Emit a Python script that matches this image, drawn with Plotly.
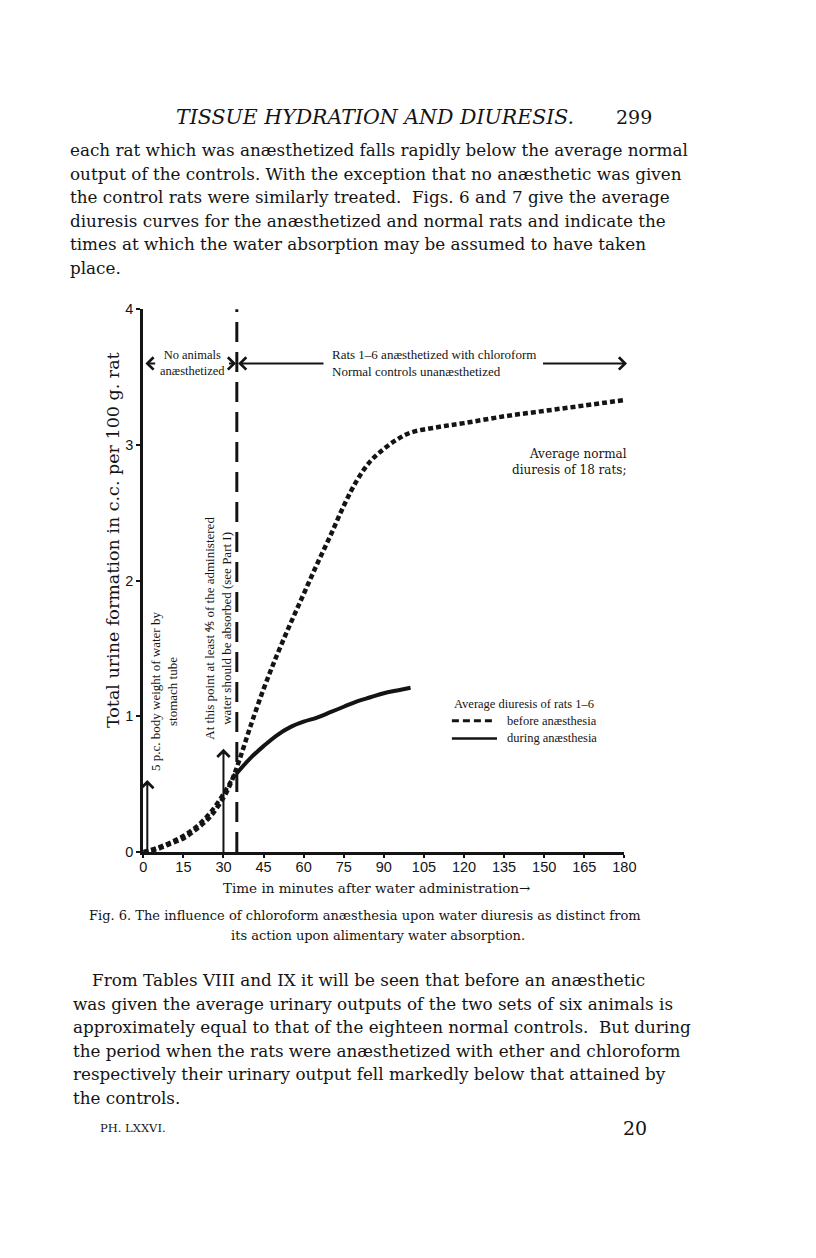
import plotly.graph_objects as go

# ---------------------------------------------------------------- data
normal_t = [0, 5, 10, 15, 20, 25, 30, 33, 36, 40, 45, 50, 55, 60, 65, 70, 75,
            80, 85, 90, 95, 100, 110, 120, 135, 150, 165, 180]
normal_y = [0, 0.02, 0.06, 0.10, 0.17, 0.26, 0.40, 0.52, 0.68, 0.92, 1.20, 1.45,
            1.68, 1.90, 2.12, 2.33, 2.55, 2.74, 2.88, 2.97, 3.04, 3.09, 3.13,
            3.16, 3.21, 3.25, 3.29, 3.33]

before_t = [0, 5, 10, 15, 20, 25, 30, 35]
before_y = [0, 0.03, 0.07, 0.12, 0.19, 0.29, 0.43, 0.60]

during_t = [35, 40, 45, 50, 55, 60, 65, 70, 75, 80, 85, 90, 95, 100]
during_y = [0.58, 0.69, 0.78, 0.86, 0.92, 0.96, 0.99, 1.03, 1.07, 1.11, 1.14,
            1.17, 1.19, 1.21]

x_ticks = [0, 15, 30, 45, 60, 75, 90, 105, 120, 135, 150, 165, 180]
y_ticks = [0, 1, 2, 3, 4]

water_t, water_top = 1.5, 0.53          # water given by stomach tube
absorbed_t, absorbed_top = 30, 0.76     # 4/5 of water absorbed
anaes_t = 35                            # start of chloroform
band_y = 3.6                            # level of the horizontal arrows

header = "TISSUE HYDRATION AND DIURESIS."
page_no = "299"
para_top = [
    "each rat which was anæsthetized falls rapidly below the average normal",
    "output of the controls. With the exception that no anæsthetic was given",
    "the control rats were similarly treated.  Figs. 6 and 7 give the average",
    "diuresis curves for the anæsthetized and normal rats and indicate the",
    "times at which the water absorption may be assumed to have taken",
    "place.",
]
para_bottom = [
    "From Tables VIII and IX it will be seen that before an anæsthetic",
    "was given the average urinary outputs of the two sets of six animals is",
    "approximately equal to that of the eighteen normal controls.  But during",
    "the period when the rats were anæsthetized with ether and chloroform",
    "respectively their urinary output fell markedly below that attained by",
    "the controls.",
]
caption = [
    "Fig. 6. The influence of chloroform anæsthesia upon water diuresis as distinct from",
    "its action upon alimentary water absorption.",
]

# ---------------------------------------------------------------- page helpers
# the page body keeps its 8px margin; keep the figure well inside the window
W, H = 790, 1230
OFF = 8
INK = "#141414"
SERIF = "DejaVu Serif"
TIMES = "Liberation Serif"
SANS = "Liberation Sans"


def px(x):
    return (x - OFF) / W


def py(y):
    return 1 - (y - OFF) / H


annotations = []


def page_text(text, x, y, size, family=SERIF, anchor="left", angle=0,
              align="left", style="normal"):
    annotations.append(dict(
        text=text, x=px(x), y=py(y), xref="paper", yref="paper",
        xanchor=anchor, yanchor="middle", showarrow=False, textangle=angle,
        align=align, font=dict(family=family, size=size, color=INK, style=style),
    ))


def arrow(x, y, ax, ay):
    annotations.append(dict(
        x=x, y=y, ax=ax, ay=ay, xref="x", yref="y", axref="x", ayref="y",
        text="", showarrow=True, arrowhead=4, arrowsize=1.2, arrowwidth=2,
        arrowcolor=INK,
    ))


# ---------------------------------------------------------------- figure
fig = go.Figure()

fig.add_trace(go.Scatter(
    x=[anaes_t, anaes_t], y=[0, 4.02], mode="lines",
    line=dict(color=INK, width=3, dash="20px,10px"), hoverinfo="skip"))

fig.add_trace(go.Scatter(
    x=[water_t, water_t], y=[0, water_top - 0.02], mode="lines",
    line=dict(color=INK, width=2), hoverinfo="skip"))
fig.add_trace(go.Scatter(
    x=[absorbed_t, absorbed_t], y=[0, absorbed_top - 0.02], mode="lines",
    line=dict(color=INK, width=2), hoverinfo="skip"))

fig.add_trace(go.Scatter(
    x=before_t, y=before_y, mode="lines", line_shape="spline",
    line=dict(color=INK, width=4, dash="5px,3px"), name="before anæsthesia"))
fig.add_trace(go.Scatter(
    x=normal_t, y=normal_y, mode="lines", line_shape="spline",
    line=dict(color=INK, width=4.5, dash="5px,3px"), name="Average normal"))
fig.add_trace(go.Scatter(
    x=during_t, y=during_y, mode="lines", line_shape="spline",
    line=dict(color=INK, width=4), name="during anæsthesia"))

# arrows
arrow(water_t, water_top, water_t, water_top - 0.05)
arrow(absorbed_t, absorbed_top, absorbed_t, absorbed_top - 0.05)
arrow(0.8, band_y, 5, band_y)
arrow(anaes_t - 0.3, band_y, 31.5, band_y)
arrow(anaes_t + 0.5, band_y, 68, band_y)
arrow(181, band_y, 149, band_y)

# chart labels
page_text("No animals<br>anæsthetized", 192, 360, 12.5, TIMES, "center", align="center")
page_text("Rats 1–6 anæsthetized with chloroform<br>Normal controls unanæsthetized",
          333, 360, 13, TIMES)
page_text("Average normal<br>diuresis of 18 rats;", 638, 460, 12, SERIF, "right",
          align="right")
page_text("Average diuresis of rats 1–6", 457, 705, 12.5, TIMES)
page_text("before anæsthesia", 511, 722, 12.5, TIMES)
page_text("during anæsthesia", 511, 740, 12.5, TIMES)
page_text("5 p.c. body weight of water by<br>stomach tube", 163, 692, 13, TIMES,
          "center", angle=-90, align="center")
page_text("At this point at least ⅘ of the administered<br>water should be absorbed (see Part I)",
          218, 628, 13, TIMES, "center", angle=-90, align="center")
page_text("Total urine formation in c.c. per 100 g. rat", 111, 539, 17.5, SERIF,
          "center", angle=-90)
page_text("Time in minutes after water administration→", 380, 891, 13.5, SERIF, "center")

# page text
page_text(header, 378, 110, 20.5, SERIF, "center", style="italic")
page_text(page_no, 643, 110, 19, SERIF, "center")
for i, line in enumerate(para_top):
    page_text(line, 65, 144 + i * 23.8, 16.8)
for i, line in enumerate(caption):
    page_text(line, 368 if i == 0 else 382, 919 + i * 21, 13, SERIF, "center")
for i, line in enumerate(para_bottom):
    page_text(line, 88 if i == 0 else 68, 985 + i * 23.8, 16.8)
page_text("PH. LXXVI.", 96, 1135, 11.5)
page_text("20", 644, 1135, 19, SERIF, "center")

# legend samples
shapes = [
    dict(type="line", xref="paper", yref="paper", x0=px(457), x1=px(501),
         y0=py(722), y1=py(722), line=dict(color=INK, width=3, dash="7px,4px")),
    dict(type="line", xref="paper", yref="paper", x0=px(457), x1=px(503),
         y0=py(740), y1=py(740), line=dict(color=INK, width=2.5)),
]

fig.update_layout(
    width=W, height=H,
    margin=dict(l=0, r=0, t=0, b=0),
    paper_bgcolor="white", plot_bgcolor="white",
    showlegend=False,
    annotations=annotations,
    shapes=shapes,
    xaxis=dict(
        domain=[px(142), px(633)], range=[0, 180], tickvals=x_ticks,
        showgrid=False, zeroline=False, showline=True, linewidth=2.5,
        linecolor=INK, ticks="outside", ticklen=3, tickwidth=1.5, tickcolor=INK,
        ticklabelstandoff=-3,
        tickfont=dict(family=SANS, size=14.5, color=INK),
    ),
    yaxis=dict(
        domain=[py(855), py(305)], range=[0, 4], tickvals=y_ticks,
        showgrid=False, zeroline=False, showline=True, linewidth=3,
        linecolor=INK, ticks="outside", ticklen=4, tickwidth=1.5, tickcolor=INK,
        tickfont=dict(family=SANS, size=14.5, color=INK),
    ),
)

fig.write_html("out.html")
